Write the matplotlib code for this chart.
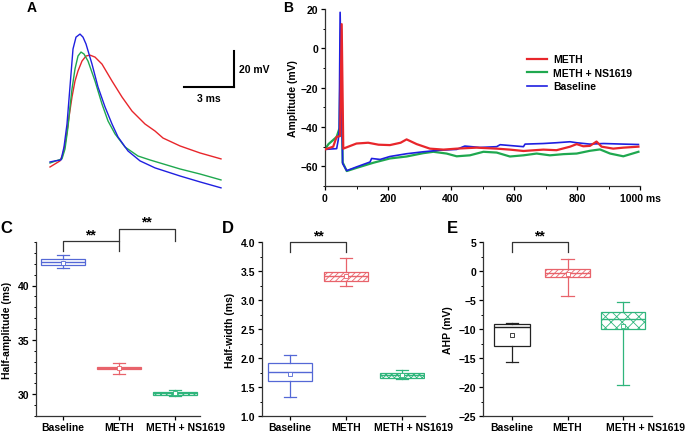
import numpy as np
import matplotlib
matplotlib.use("Agg")
import matplotlib.pyplot as plt
import matplotlib.transforms as mtransforms
from matplotlib.ticker import MultipleLocator, FixedLocator

plt.rcParams['font.family'] = ['Liberation Sans', 'DejaVu Sans']
plt.rcParams['font.weight'] = 'bold'
plt.rcParams['hatch.linewidth'] = 0.6

RED = '#e8262b'
GREEN = '#1fa84f'
BLUE = '#1f1fe0'

W, H = 688, 435

# ---- panel A: single action potentials (ms, mV) ----
a_blue_t = [0, 0.30, 0.66, 0.84, 1.02, 1.14, 1.26, 1.38, 1.56, 1.80, 1.98, 2.16, 2.52, 2.88,
            3.30, 3.72, 4.08, 4.68, 5.40, 6.30, 7.80, 9.00, 10.26]
a_blue_v = [-60, -59.4, -58.9, -51.7, -38.9, -25.0, -11.1, 2.8, 9.4, 11.1, 9.4, 5.6, -5.6, -18.3,
            -29.4, -38.9, -46.1, -53.9, -59.4, -63.3, -67.8, -71.1, -74.4]
a_green_t = [0, 0.36, 0.72, 0.90, 1.08, 1.20, 1.32, 1.50, 1.68, 1.86, 2.04, 2.28, 2.70, 3.12,
             3.48, 3.90, 4.50, 5.28, 6.00, 7.80, 9.00, 10.26]
a_green_v = [-60.6, -59.4, -58.3, -52.8, -40.6, -29.4, -19.4, -8.3, -1.1, 1.1, 0.0, -3.9, -15.0,
             -27.8, -37.2, -44.4, -51.7, -56.7, -58.9, -63.9, -66.7, -70.0]
a_red_t = [0, 0.30, 0.60, 0.78, 0.96, 1.14, 1.32, 1.50, 1.68, 1.92, 2.16, 2.40, 2.70, 3.12,
           3.72, 4.32, 4.92, 5.70, 6.30, 6.78, 7.80, 9.00, 10.26]
a_red_v = [-62.8, -61.1, -59.4, -55.6, -47.2, -35.0, -23.9, -15.0, -9.4, -3.9, -1.1, -0.6, -1.7,
           -5.6, -15.0, -23.9, -31.7, -38.9, -42.8, -46.7, -51.1, -55.0, -58.3]

# ---- panel B: 1 s recordings (ms, mV) ----
b_red_t = [0, 26, 37, 48, 53, 58, 74, 100, 137, 170, 206, 240, 259, 291, 333, 376, 418, 481,
           545, 587, 630, 693, 735, 778, 799, 820, 841, 862, 878, 915, 947, 995]
b_red_v = [-51.4, -50, -45, -44.6, 12.3, -51, -50, -48.4, -48, -49, -49.2, -48, -46.3, -48.7,
           -51, -51.5, -51, -50.5, -51, -51.5, -52.2, -51.5, -51.8, -50, -48.7, -49.8, -49.6,
           -47.4, -50, -51, -50.5, -50]
b_green_t = [0, 11, 26, 37, 46, 51, 56, 69, 100, 153, 206, 259, 312, 344, 386, 418, 460, 503,
             545, 587, 630, 672, 714, 757, 799, 841, 873, 905, 947, 995]
b_green_v = [-51.4, -48.7, -46.6, -45, -40.6, 10, -58, -62.4, -60.8, -58.2, -56, -55, -53.3,
             -52.6, -53.5, -54.9, -54.4, -52.6, -53, -55, -54.4, -53.5, -54.4, -53.8, -53.5,
             -52.1, -51.4, -53.5, -54.9, -52.6]
b_blue_t = [0, 37, 42, 45, 48, 56, 69, 100, 143, 148, 175, 206, 259, 312, 365, 418, 439, 444,
            492, 545, 556, 630, 635, 693, 735, 778, 799, 841, 884, 947, 995]
b_blue_v = [-51.4, -51, -46.6, -42, 18.3, -58.6, -62.2, -60.3, -57.8, -56, -56.5, -55, -53.6,
            -52.6, -51.8, -51.4, -50, -49.7, -50.4, -50, -49, -50, -48.7, -48.4, -48, -47.5, -48,
            -48.7, -48.4, -48.7, -48.9]
b_xticks = [0, 200, 400, 600, 800, 1000]
b_xlabels = ['0', '200', '400', '600', '800', '1000 ms']

groups = ['Baseline', 'METH', 'METH + NS1619']

# box stats: q1, median, q3, whisker low, whisker high, mean
c_q1 = [41.9, 32.3, 29.95]
c_med = [42.15, 32.45, 30.1]
c_q3 = [42.4, 32.55, 30.25]
c_lo = [41.6, 31.9, 29.8]
c_hi = [42.8, 32.9, 30.4]
c_mean = [42.1, 32.4, 30.1]

d_q1 = [1.6, 3.33, 1.66]
d_med = [1.76, 3.42, 1.70]
d_q3 = [1.92, 3.49, 1.74]
d_lo = [1.33, 3.25, 1.63]
d_hi = [2.05, 3.73, 1.79]
d_mean = [1.72, 3.42, 1.70]

e_q1 = [-12.9, -1.1, -10.0]
e_med = [-9.6, -0.4, -8.2]
e_q3 = [-9.2, 0.3, -7.1]
e_lo = [-15.7, -4.3, -19.7]
e_hi = [-9.0, 2.1, -5.3]
e_mean = [-11.0, -0.6, -9.5]


def fig_axes(fig, x0, y0, x1, y1):
    return fig.add_axes([x0 / W, 1 - y1 / H, (x1 - x0) / W, (y1 - y0) / H])


fig = plt.figure(figsize=(6.88, 4.35), dpi=100)

# ---------------- A ----------------
axA = fig_axes(fig, 40, 25, 260, 200)
axA.plot(a_red_t, a_red_v, color=RED, lw=1.0)
axA.plot(a_green_t, a_green_v, color=GREEN, lw=1.0)
axA.plot(a_blue_t, a_blue_v, color=BLUE, lw=1.0)
axA.set_xlim(-0.6, 12.6)
axA.set_ylim(-80.6, 16.7)
axA.axis('off')
# scale bar
axA.plot([8.04, 11.04], [-18.3, -18.3], color='black', lw=1.5)
axA.plot([11.04, 11.04], [-18.3, 1.7], color='black', lw=1.5)
axA.text(11.35, -8.3, '20 mV', fontsize=7.5, fontweight='bold', va='center', ha='left')
axA.text(9.54, -21.5, '3 ms', fontsize=7.5, fontweight='bold', va='top', ha='center')

# ---------------- B ----------------
axB = fig_axes(fig, 325, 10, 640, 187)
axB.plot(b_red_t, b_red_v, color=RED, lw=1.6, label='METH', zorder=3)
axB.plot(b_green_t, b_green_v, color=GREEN, lw=1.6, label='METH + NS1619', zorder=2)
axB.plot(b_blue_t, b_blue_v, color=BLUE, lw=1.2, label='Baseline', zorder=2.5)
axB.set_xlim(0, 1000)
axB.set_ylim(-70, 20)
axB.xaxis.set_major_locator(FixedLocator(b_xticks))
axB.xaxis.set_minor_locator(MultipleLocator(100))
axB.set_xticklabels(b_xlabels)
axB.yaxis.set_major_locator(FixedLocator([-60, -40, -20, 0, 20]))
axB.yaxis.set_minor_locator(MultipleLocator(10))
axB.set_ylabel('Amplitude (mV)', fontsize=7.5, fontweight='bold', labelpad=2)
axB.legend(loc='upper left', bbox_to_anchor=(522 / W, 1 - 50 / H),
           bbox_transform=fig.transFigure, frameon=False, fontsize=7.5,
           handlelength=1.9, handletextpad=0.6, labelspacing=0.35, borderpad=0)
for s in ['top', 'right']:
    axB.spines[s].set_visible(False)


def box_panel(ax, q1, med, q3, lo, hi, mean, colors, hatches, widths):
    stats = []
    for i in range(len(groups)):
        stats.append(dict(q1=q1[i], med=med[i], q3=q3[i], whislo=lo[i], whishi=hi[i],
                          mean=mean[i], fliers=[], label=groups[i]))
    art = ax.bxp(stats, positions=range(len(groups)), widths=widths, patch_artist=True,
                 showmeans=True, showfliers=False, capwidths=0.22)
    for i, c in enumerate(colors):
        b = art['boxes'][i]
        b.set_facecolor('white')
        b.set_edgecolor(c)
        b.set_linewidth(0.9)
        b.set_hatch(hatches[i])
        art['medians'][i].set_color(c)
        art['medians'][i].set_linewidth(1.0)
        art['means'][i].set_marker('s')
        art['means'][i].set_markersize(2.5)
        art['means'][i].set_markerfacecolor('white')
        art['means'][i].set_markeredgecolor(c)
        art['means'][i].set_markeredgewidth(0.6)
        for k in (2 * i, 2 * i + 1):
            art['whiskers'][k].set_color(c)
            art['whiskers'][k].set_linewidth(0.9)
            art['caps'][k].set_color(c)
            art['caps'][k].set_linewidth(0.9)
    for s in ['top', 'right']:
        ax.spines[s].set_visible(False)
    ax.set_xticks(range(len(groups)))
    ax.set_xticklabels(groups)


def bracket(ax, x0, x1, ytop, yl, yr, txt=True):
    ax.plot([x0, x0, x1, x1], [yl, ytop, ytop, yr], color='#333333', lw=0.9, clip_on=False)
    if txt:
        ax.text((x0 + x1) / 2, ytop, '**', ha='center', va='bottom', fontsize=10,
                fontweight='bold')


def shift_last_label(ax, dx_px):
    lab = ax.get_xticklabels()[-1]
    lab.set_transform(lab.get_transform() +
                      mtransforms.ScaledTranslation(dx_px / 100, 0, fig.dpi_scale_trans))


cols = ['#5468d6', '#e8636b', '#2fb57c']

# ---------------- C ----------------
axC = fig_axes(fig, 36, 243, 200, 417)
box_panel(axC, c_q1, c_med, c_q3, c_lo, c_hi, c_mean, cols, ['', '//////', 'xxxxxx'], 0.79)
axC.set_xlim(-0.48, 2.45)
axC.set_ylim(28, 44)
axC.yaxis.set_major_locator(FixedLocator([30, 35, 40]))
axC.yaxis.set_minor_locator(MultipleLocator(1))
axC.set_ylabel('Half-amplitude (ms)', fontsize=7.5, fontweight='bold', labelpad=4)
bracket(axC, 0, 1, 44.06, 43.15, 43.15)
bracket(axC, 1, 2, 45.2, 44.06, 44.06)

# ---------------- D ----------------
axD = fig_axes(fig, 262, 243, 425, 417)
box_panel(axD, d_q1, d_med, d_q3, d_lo, d_hi, d_mean, cols, ['', '//////', 'xxxxxx'], 0.8)
axD.set_xlim(-0.5, 2.41)
axD.set_ylim(1, 4)
axD.yaxis.set_major_locator(MultipleLocator(0.5))
axD.yaxis.set_minor_locator(MultipleLocator(0.25))
axD.yaxis.set_major_formatter(matplotlib.ticker.FormatStrFormatter('%.1f'))
axD.set_ylabel('Half-width (ms)', fontsize=7.5, fontweight='bold', labelpad=4)
bracket(axD, 0, 1, 4.0, 3.83, 3.83)

# ---------------- E ----------------
axE = fig_axes(fig, 483, 243, 652, 417)
box_panel(axE, e_q1, e_med, e_q3, e_lo, e_hi, e_mean, ['#222222', '#e8636b', '#2fb57c'],
          ['', '//////', 'xxx'], [0.65, 0.8, 0.8])
axE.set_xlim(-0.52, 2.52)
axE.set_ylim(-25, 5)
axE.yaxis.set_major_locator(MultipleLocator(5))
axE.yaxis.set_minor_locator(MultipleLocator(2.5))
axE.set_ylabel('AHP (mV)', fontsize=7.5, fontweight='bold', labelpad=4)
bracket(axE, 0, 1, 5.0, 3.3, 3.3)

for ax in [axB, axC, axD, axE]:
    ax.tick_params(axis='both', which='major', labelsize=7.5, length=3, width=0.9, pad=2)
    ax.tick_params(axis='both', which='minor', length=1.8, width=0.7)
    ax.tick_params(axis='x', which='minor', bottom=ax is axB)
    for s in ['left', 'bottom']:
        ax.spines[s].set_linewidth(0.9)
        ax.spines[s].set_color('#333333')
    for lab in ax.get_xticklabels() + ax.get_yticklabels():
        lab.set_fontweight('bold')
for ax in [axC, axD, axE]:
    ax.tick_params(axis='x', which='major', pad=1.5)

shift_last_label(axC, 11)
shift_last_label(axD, 11)
shift_last_label(axE, 22)

# panel letters
for letter, x, y, fs in [('A', 32, 8, 10), ('B', 288, 8, 10), ('C', 6, 229, 12),
                         ('D', 228, 229, 12), ('E', 452, 229, 12)]:
    fig.text(x / W, 1 - y / H, letter, fontsize=fs, fontweight='bold', ha='center', va='center')

fig.savefig('out.png', dpi=100)
